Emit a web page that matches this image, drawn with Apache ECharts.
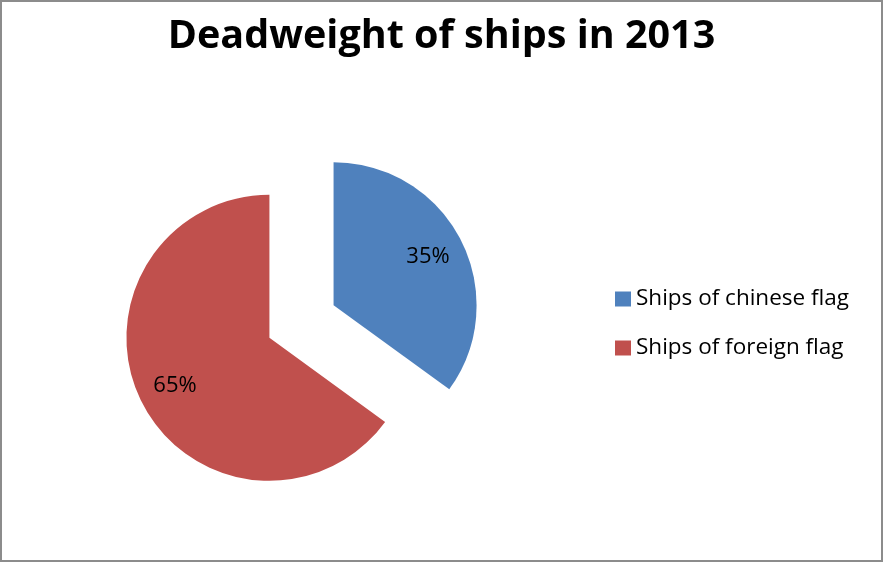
<!DOCTYPE html>
<html>
<head>
<meta charset="utf-8">
<script src="https://cdn.jsdelivr.net/npm/echarts@6/dist/echarts.min.js"></script>
<style>
  html, body { margin: 0; padding: 0; background: #fff; }
  #frame { position: absolute; left: 0; top: 0; width: 879px; height: 558px; border: 2px solid #8c8c8c; }
  #chart { position: absolute; left: 0; top: 0; width: 883px; height: 563px; }
</style>
</head>
<body>
<div id="frame"></div>
<div id="chart"></div>
<script>
// pie data :
var categories = ["Ships of chinese flag", "Ships of foreign flag"];
var values = [35, 65];
var colors = ["#4F81BD", "#C0504D"];

var dom = document.getElementById("chart");
var myChart = echarts.init(dom);
var font = "'Open Sans', 'DejaVu Sans', sans-serif";

function pieData(transparent) {
  return categories.map(function (name, i) {
    return {
      name: name,
      value: values[i],
      selected: true,
      itemStyle: { color: transparent ? "rgba(0,0,0,0)" : colors[i] }
    };
  });
}

var base = {
  type: "pie",
  center: [301.5, 321.5],
  startAngle: 90,
  clockwise: true,
  selectedMode: "multiple",
  selectedOffset: 36,
  animation: false,
  emphasis: { disabled: true },
  select: { itemStyle: { borderWidth: 0 } },
  labelLine: { show: false }
};

var option = {
  title: {
    text: "Deadweight of ships in 2013",
    left: "center",
    top: 17,
    padding: 0,
    textStyle: { fontFamily: font, fontWeight: "bold", fontSize: 39.5, color: "#000" }
  },
  legend: {
    orient: "vertical",
    left: 615,
    top: 286,
    padding: 0,
    itemWidth: 16,
    itemHeight: 15,
    itemGap: 23,
    icon: "rect",
    data: categories,
    selectedMode: false,
    textStyle: { fontFamily: font, fontSize: 22.5, lineHeight: 26, color: "#000", padding: [0, 0, 0, 0] }
  },
  series: [
    Object.assign({}, base, {
      name: "Deadweight",
      radius: [0, 143],
      label: { show: false },
      data: pieData(false)
    }),
    Object.assign({}, base, {
      name: "labels",
      radius: [63, 143],
      silent: true,
      label: {
        show: true,
        position: "inside",
        formatter: "{d}%",
        fontFamily: font,
        fontSize: 22,
        color: "#000"
      },
      data: pieData(true)
    })
  ]
};
myChart.setOption(option);
</script>
</body>
</html>
